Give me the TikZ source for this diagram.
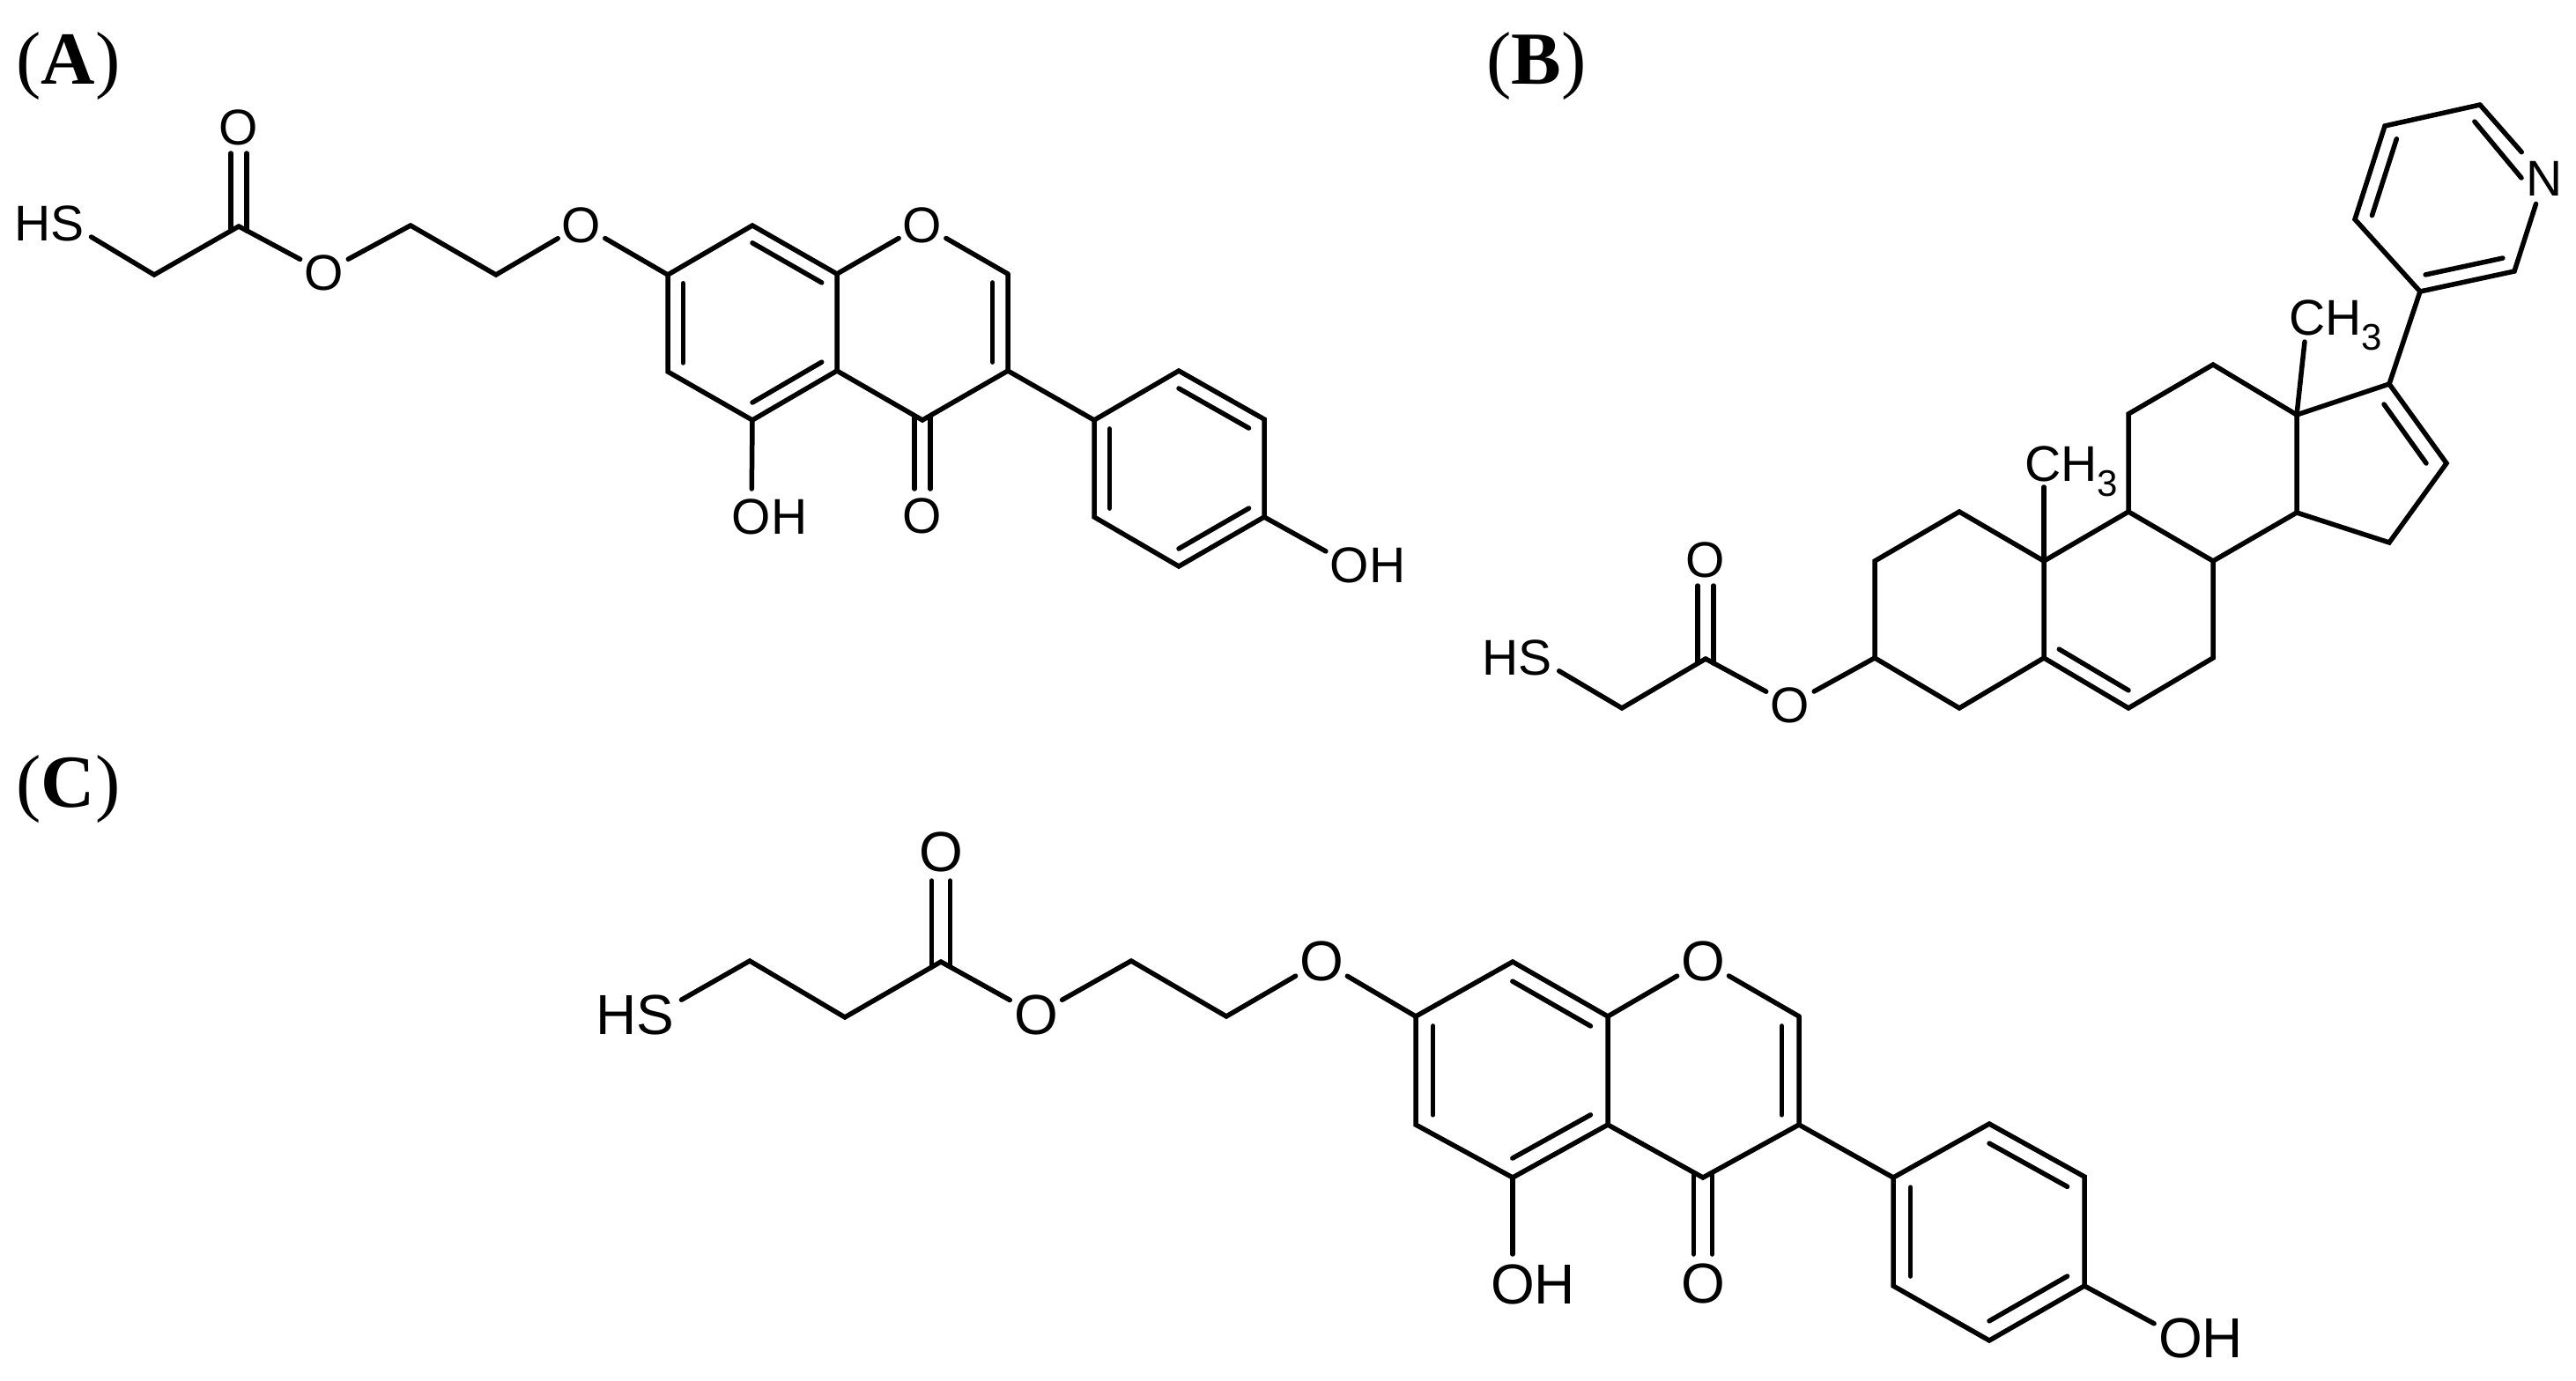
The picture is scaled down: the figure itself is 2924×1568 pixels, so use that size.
\documentclass[tikz,border=0pt]{standalone}
\usepackage{fontspec}
\setmainfont{Liberation Sans}
\newfontfamily\labfont{Liberation Serif}
\usetikzlibrary{calc}
\newcommand\ctrtxt[1]{\smash{\makebox[0pt]{\raisebox{-.358em}{#1}}}}
\newcommand\ohtxt{\smash{\makebox[0pt][l]{\kern-.389em\raisebox{-.358em}{OH}}}}
\newcommand\shtxt{\smash{\makebox[0pt][r]{\raisebox{-.358em}{HS}\kern-.333em}}}
\newcommand\methyl{CH\raisebox{-.3em}{\fontsize{21pt}{21pt}\selectfont 3}}
\newcommand\panel[1]{{\labfont(\textbf{#1})}}
% inner line of a ring double bond: ends pulled towards the ring centre
\newcommand\ringdbl[3]{\draw[bond] ($(#1)!.18!(#3)$) -- ($(#2)!.18!(#3)$);}
% C=O with the O above / below the carbon: {C}{O}{half gap}{stop}
\newcommand\coup[4]{%
  \draw[bond] ([shift={(-#3,5)}]#1) -- ([shift={(-#3,#4)}]#2.center);
  \draw[bond] ([shift={(#3,5)}]#1) -- ([shift={(#3,#4)}]#2.center);}
\newcommand\codown[4]{%
  \draw[bond] ([shift={(-#3,-3)}]#1) -- ([shift={(-#3,-#4)}]#2.center);
  \draw[bond] ([shift={(#3,-3)}]#1) -- ([shift={(#3,-#4)}]#2.center);}
\tikzset{
  bond/.style={line width=2.75pt,line cap=round,line join=miter,black},
  atomS/.style={circle,inner sep=0pt,outer sep=0pt,minimum size=31pt,font=\fontsize{28.5pt}{28.5pt}\selectfont},
  atomL/.style={circle,inner sep=0pt,outer sep=0pt,minimum size=34pt,font=\fontsize{32pt}{32pt}\selectfont},
  methylnode/.style={anchor=base west,inner sep=0pt,font=\fontsize{28.5pt}{28.5pt}\selectfont},
  panelnode/.style={anchor=base west,inner sep=0pt,font=\fontsize{42.5pt}{42.5pt}\selectfont},
}
\begin{document}
\begin{tikzpicture}[x=0.5pt,y=-0.5pt]
\useasboundingbox (0,0) rectangle (2924,1568);

\node[panelnode] (pA) at (18,96) {\panel{A}};
\node[panelnode] (pB) at (1687,96) {\panel{B}};
\node[panelnode] (pC) at (18,916) {\panel{C}};

%%%%%%%%%%% A
\node[atomS] (aS) at (77,253) {\shtxt};
\coordinate (a1) at (175,312);
\coordinate (a2) at (271,257);
\node[atomS] (aOc) at (271,144) {\ctrtxt{O}};
\node[atomS] (aOe) at (368,309) {\ctrtxt{O}};
\coordinate (a3) at (466,256);
\coordinate (a4) at (563,312);
\node[atomS] (aOa) at (660,255) {\ctrtxt{O}};
\coordinate (a7) at (758,312);
\coordinate (a8) at (854,256);
\coordinate (a8x) at (950,311);
\coordinate (a4x) at (950,421);
\coordinate (a5) at (854,477);
\coordinate (a6) at (758,422);
\node[atomS] (aO1) at (1047,255) {\ctrtxt{O}};
\coordinate (aC2) at (1144,311);
\coordinate (aC3) at (1144,421);
\coordinate (aC4) at (1047,477);
\node[atomS] (aOk) at (1047,585) {\ctrtxt{O}};
\node[atomS] (aOH5) at (853,586) {\ohtxt};
\coordinate (ap1) at (1242,477);
\coordinate (ap2) at (1338,421);
\coordinate (ap3) at (1435,476);
\coordinate (ap4) at (1435,587);
\coordinate (ap5) at (1338,643);
\coordinate (ap6) at (1242,587);
\node[atomS] (aOH4) at (1532,641) {\ohtxt};
\coordinate (arA) at (854,366);
\coordinate (arB) at (1047,366);
\coordinate (arP) at (1338,532);

\draw[bond] (aS) -- (a1) -- (a2);
\draw[bond] (a2) -- (aOe);
\draw[bond] (aOe) -- (a3);
\draw[bond] (a3) -- (a4) -- (aOa);
\draw[bond] (aOa) -- (a7);
\coup{a2}{aOc}{9}{30}
\draw[bond] (a7) -- (a8) -- (a8x) -- (a4x) -- (a5) -- (a6) -- cycle;
\draw[bond] (a8x) -- (aO1);
\draw[bond] (aO1) -- (aC2);
\draw[bond] (aC2) -- (aC3) -- (aC4) -- (a4x);
\draw[bond] (a5) -- (aOH5);
\codown{aC4}{aOk}{9}{30}
\draw[bond] (aC3) -- (ap1);
\draw[bond] (ap1) -- (ap2) -- (ap3) -- (ap4) -- (ap5) -- (ap6) -- cycle;
\draw[bond] (ap4) -- (aOH4);
\ringdbl{a7}{a6}{arA}
\ringdbl{a8}{a8x}{arA}
\ringdbl{a5}{a4x}{arA}
\ringdbl{aC2}{aC3}{arB}
\ringdbl{ap1}{ap6}{arP}
\ringdbl{ap2}{ap3}{arP}
\ringdbl{ap4}{ap5}{arP}

%%%%%%%%%%% B
\node[atomS] (bS) at (1743,746) {\shtxt};
\coordinate (b1) at (1841,804);
\coordinate (b2) at (1936,748);
\node[atomS] (bOc) at (1936,635) {\ctrtxt{O}};
\node[atomS] (bOe) at (2032,800) {\ctrtxt{O}};
\coordinate (bC3) at (2128,747);
\coordinate (bC2) at (2128,637);
\coordinate (bC1) at (2224,581);
\coordinate (bC10) at (2320,637);
\coordinate (bC5) at (2320,747);
\coordinate (bC4) at (2224,804);
\coordinate (bC6) at (2416,804);
\coordinate (bC7) at (2512,747);
\coordinate (bC8) at (2512,637);
\coordinate (bC9) at (2416,581);
\coordinate (bC11) at (2416,470);
\coordinate (bC12) at (2512,414);
\coordinate (bC13) at (2607,471);
\coordinate (bC14) at (2607,582);
\coordinate (bC15) at (2712,616);
\coordinate (bC16) at (2777,526);
\coordinate (bC17) at (2712,436);
\coordinate (bD1) at (2706,459);
\coordinate (bD2) at (2754,526);
\coordinate (brB) at (2416,692);
\node[methylnode] (bMe1) at (2298,546) {\methyl};
\coordinate (bMe1e) at (2320,553);
\node[methylnode] (bMe2) at (2598,380) {\methyl};
\coordinate (bMe2e) at (2616,388);
\coordinate (bp1) at (2815,119);
\coordinate (bp2) at (2707,143);
\coordinate (bp3) at (2673,249);
\coordinate (bp4) at (2747,331);
\coordinate (bp5) at (2854,308);
\node[atomS] (bN) at (2888,202) {\ctrtxt{N}};
\coordinate (bpN) at (2862,202);
\coordinate (brY) at (2781,225);

\draw[bond] (bS) -- (b1) -- (b2);
\draw[bond] (b2) -- (bOe);
\draw[bond] (bOe) -- (bC3);
\coup{b2}{bOc}{9}{30}
\draw[bond] (bC3) -- (bC2) -- (bC1) -- (bC10) -- (bC5) -- (bC4) -- cycle;
\draw[bond] (bC5) -- (bC6) -- (bC7) -- (bC8) -- (bC9) -- (bC10);
\draw[bond] (bC9) -- (bC11) -- (bC12) -- (bC13) -- (bC14) -- (bC8);
\draw[bond] (bC13) -- (bC17) -- (bC16) -- (bC15) -- (bC14);
\draw[bond] (bC10) -- (bMe1e);
\draw[bond] (bC13) -- (bMe2e);
\ringdbl{bC5}{bC6}{brB}
\draw[bond] (bD1) -- (bD2);
\draw[bond] (bC17) -- (bp4);
\draw[bond] (bp4) -- (bp3) -- (bp2) -- (bp1);
\draw[bond,shorten >=4pt] (bp1) -- (bN);
\draw[bond] (bN) -- (bp5) -- (bp4);
\ringdbl{bp2}{bp3}{brY}
\ringdbl{bp4}{bp5}{brY}
\draw[bond] ($(bp1)!.18!(brY)$) -- (bpN);

%%%%%%%%%%% C
\node[atomL] (cS) at (744,1152) {\shtxt};
\coordinate (c1) at (851,1091);
\coordinate (c1b) at (959,1155);
\coordinate (c2) at (1068,1092);
\node[atomL] (cOc) at (1068,967) {\ctrtxt{O}};
\node[atomL] (cOe) at (1176,1152) {\ctrtxt{O}};
\coordinate (c3) at (1284,1091);
\coordinate (c4) at (1392,1154);
\node[atomL] (cOa) at (1500,1091) {\ctrtxt{O}};
\coordinate (c7) at (1607,1154);
\coordinate (c8) at (1717,1092);
\coordinate (c8x) at (1825,1154);
\coordinate (c4x) at (1825,1277);
\coordinate (c5) at (1717,1337);
\coordinate (c6) at (1607,1277);
\node[atomL] (cO1) at (1933,1091) {\ctrtxt{O}};
\coordinate (cC2) at (2042,1154);
\coordinate (cC3) at (2042,1277);
\coordinate (cC4) at (1933,1337);
\node[atomL] (cOk) at (1933,1457) {\ctrtxt{O}};
\node[atomL] (cOH5) at (1717,1458) {\ohtxt};
\coordinate (cp1) at (2149,1337);
\coordinate (cp2) at (2258,1276);
\coordinate (cp3) at (2366,1336);
\coordinate (cp4) at (2366,1460);
\coordinate (cp5) at (2258,1522);
\coordinate (cp6) at (2149,1460);
\node[atomL] (cOH4) at (2475,1519) {\ohtxt};
\coordinate (crA) at (1716,1215);
\coordinate (crB) at (1933,1215);
\coordinate (crP) at (2258,1399);

\draw[bond] (cS) -- (c1) -- (c1b) -- (c2);
\draw[bond] (c2) -- (cOe);
\draw[bond] (cOe) -- (c3);
\draw[bond] (c3) -- (c4) -- (cOa);
\draw[bond] (cOa) -- (c7);
\coup{c2}{cOc}{10.5}{33}
\draw[bond] (c7) -- (c8) -- (c8x) -- (c4x) -- (c5) -- (c6) -- cycle;
\draw[bond] (c8x) -- (cO1);
\draw[bond] (cO1) -- (cC2);
\draw[bond] (cC2) -- (cC3) -- (cC4) -- (c4x);
\draw[bond] (c5) -- (cOH5);
\codown{cC4}{cOk}{10.5}{33}
\draw[bond] (cC3) -- (cp1);
\draw[bond] (cp1) -- (cp2) -- (cp3) -- (cp4) -- (cp5) -- (cp6) -- cycle;
\draw[bond] (cp4) -- (cOH4);
\ringdbl{c7}{c6}{crA}
\ringdbl{c8}{c8x}{crA}
\ringdbl{c5}{c4x}{crA}
\ringdbl{cC2}{cC3}{crB}
\ringdbl{cp1}{cp6}{crP}
\ringdbl{cp2}{cp3}{crP}
\ringdbl{cp4}{cp5}{crP}
\end{tikzpicture}
\end{document}
